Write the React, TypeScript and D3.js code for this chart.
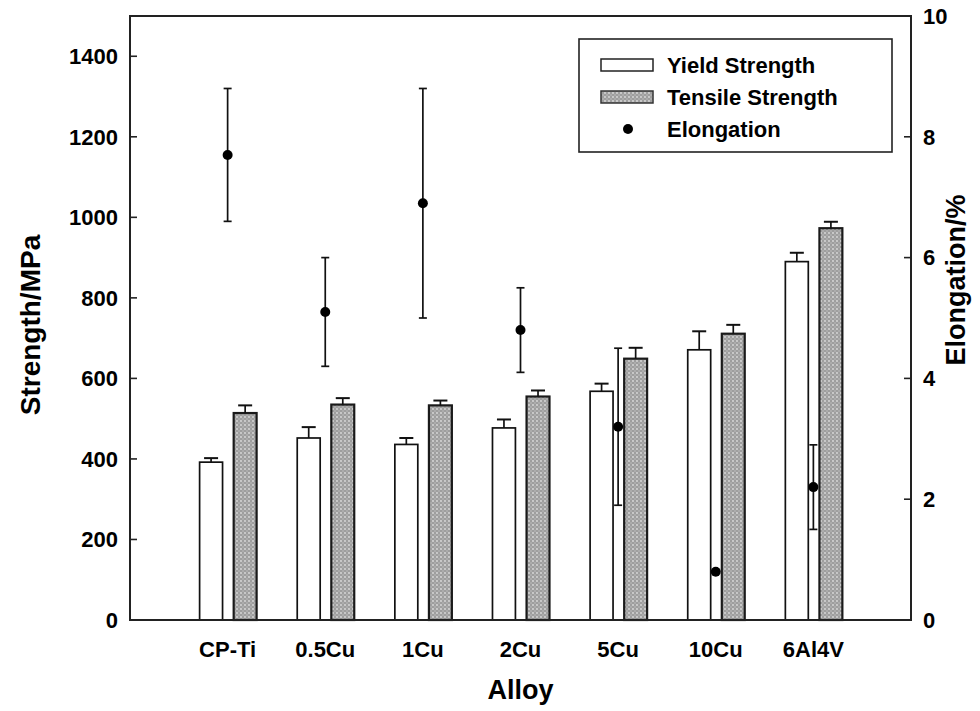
import React from 'react';
import * as d3 from 'd3';

// Values.
const categories = ['CP-Ti', '0.5Cu', '1Cu', '2Cu', '5Cu', '10Cu', '6Al4V'];
const yieldStrength = [392, 452, 436, 477, 568, 671, 890];
const yieldErr = [10, 27, 16, 21, 19, 46, 22];
const tensileStrength = [514, 535, 533, 555, 649, 711, 973];
const tensileErr = [19, 16, 12, 15, 27, 22, 16];
const elongation = [7.7, 5.1, 6.9, 4.8, 3.2, 0.8, 2.2];
const elongationErr = [1.1, 0.9, 1.9, 0.7, 1.3, 0, 0.7];
const strengthTicks = [0, 200, 400, 600, 800, 1000, 1200, 1400];
const elongTicks = [0, 2, 4, 6, 8, 10];

const W = 980;
const H = 711;
const margin = { top: 16, right: 69, bottom: 91, left: 130 };
const font = '"Liberation Sans", Arial, Helvetica, sans-serif';

const App = () => {
  const left = margin.left;
  const right = W - margin.right;
  const top = margin.top;
  const bottom = H - margin.bottom;

  const x = d3.scalePoint<string>().domain(categories).range([left, right]).padding(1);
  const y = d3.scaleLinear().domain([0, 1500]).range([bottom, top]);
  const y2 = d3.scaleLinear().domain([0, 10]).range([bottom, top]);

  const step = x.step();
  const barW = step * 0.235;
  const yieldOff = -step * 0.287; // left edge of yield bar from center
  const tensOff = step * 0.062;

  const rows = categories.map((c, i) => ({
    c,
    cx: x(c) as number,
    ys: yieldStrength[i],
    ye: yieldErr[i],
    ts: tensileStrength[i],
    te: tensileErr[i],
    el: elongation[i],
    ee: elongationErr[i],
  }));

  const capBar = 7;
  const capEl = 4;

  return (
    <svg width={W} height={H} style={{ position: 'absolute', left: 0, top: 0, background: '#fff' }}>
      <defs>
        <pattern id="stipple" width="4" height="4" patternUnits="userSpaceOnUse">
          <rect width="4" height="4" fill="#9e9e9e" />
          <circle cx="1" cy="1" r="0.9" fill="#dcdcdc" />
          <circle cx="3" cy="3" r="0.7" fill="#c6c6c6" />
        </pattern>
      </defs>

      {/* bars */}
      {rows.map((d) => (
        <g key={d.c}>
          <rect x={d.cx + yieldOff} y={y(d.ys)} width={barW} height={bottom - y(d.ys)}
            fill="#fff" stroke="#111" strokeWidth={1.7} />
          <rect x={d.cx + tensOff} y={y(d.ts)} width={barW} height={bottom - y(d.ts)}
            fill="url(#stipple)" stroke="#1a1a1a" strokeWidth={2.2} />
          {/* upward error bars */}
          <line x1={d.cx + yieldOff + barW / 2} x2={d.cx + yieldOff + barW / 2} y1={y(d.ys)} y2={y(d.ys + d.ye)} stroke="#111" strokeWidth={1.7} />
          <line x1={d.cx + yieldOff + barW / 2 - capBar} x2={d.cx + yieldOff + barW / 2 + capBar} y1={y(d.ys + d.ye)} y2={y(d.ys + d.ye)} stroke="#111" strokeWidth={2} />
          <line x1={d.cx + tensOff + barW / 2} x2={d.cx + tensOff + barW / 2} y1={y(d.ts)} y2={y(d.ts + d.te)} stroke="#111" strokeWidth={1.7} />
          <line x1={d.cx + tensOff + barW / 2 - capBar} x2={d.cx + tensOff + barW / 2 + capBar} y1={y(d.ts + d.te)} y2={y(d.ts + d.te)} stroke="#111" strokeWidth={2} />
        </g>
      ))}

      {/* elongation points with error bars */}
      {rows.map((d) => (
        <g key={'e' + d.c}>
          {d.ee > 0 && (
            <>
              <line x1={d.cx} x2={d.cx} y1={y2(d.el + d.ee)} y2={y2(d.el - d.ee)} stroke="#111" strokeWidth={1.7} />
              <line x1={d.cx - capEl} x2={d.cx + capEl} y1={y2(d.el + d.ee)} y2={y2(d.el + d.ee)} stroke="#111" strokeWidth={1.7} />
              <line x1={d.cx - capEl} x2={d.cx + capEl} y1={y2(d.el - d.ee)} y2={y2(d.el - d.ee)} stroke="#111" strokeWidth={1.7} />
            </>
          )}
          <circle cx={d.cx} cy={y2(d.el)} r={5} fill="#000" />
        </g>
      ))}

      {/* frame */}
      <rect x={left} y={top} width={right - left} height={bottom - top} fill="none" stroke="#222" strokeWidth={2} />

      {/* left axis */}
      {strengthTicks.map((t) => (
        <g key={'l' + t}>
          <line x1={left} x2={left + 7} y1={y(t)} y2={y(t)} stroke="#222" strokeWidth={1.6} />
          <text x={left - 12} y={y(t)} dy="0.35em" textAnchor="end" fontFamily={font} fontWeight="bold" fontSize={22} fill="#000">{t}</text>
        </g>
      ))}

      {/* right axis */}
      {elongTicks.map((t) => (
        <g key={'r' + t}>
          <line x1={right - 7} x2={right} y1={y2(t)} y2={y2(t)} stroke="#222" strokeWidth={1.6} />
          <text x={right + 12} y={y2(t)} dy="0.35em" textAnchor="start" fontFamily={font} fontWeight="bold" fontSize={22} fill="#000">{t}</text>
        </g>
      ))}

      {/* category labels */}
      {rows.map((d) => (
        <text key={'c' + d.c} x={d.cx} y={bottom + 29} dy="0.35em" textAnchor="middle" fontFamily={font} fontWeight="bold" fontSize={22} fill="#000">{d.c}</text>
      ))}

      {/* axis titles */}
      <text x={(left + right) / 2} y={690} dy="0.35em" textAnchor="middle" fontFamily={font} fontWeight="bold" fontSize={27} fill="#000">Alloy</text>
      <text transform={`translate(30, 325) rotate(-90)`} dy="0.35em" textAnchor="middle" fontFamily={font} fontWeight="bold" fontSize={28} fill="#000">Strength/MPa</text>
      <text transform={`translate(956, 280) rotate(-90)`} dy="0.35em" textAnchor="middle" fontFamily={font} fontWeight="bold" fontSize={27} fill="#000">Elongation/%</text>

      {/* legend */}
      <g>
        <rect x={579} y={39} width={313} height={113} fill="#fff" stroke="#222" strokeWidth={1.6} />
        <rect x={601} y={59} width={52} height={12} fill="#fff" stroke="#222" strokeWidth={1.5} />
        <text x={667} y={65} dy="0.35em" fontFamily={font} fontWeight="bold" fontSize={22} fill="#000">Yield Strength</text>
        <rect x={601} y={91} width={52} height={12} fill="url(#stipple)" stroke="#333" strokeWidth={1.5} />
        <text x={667} y={97} dy="0.35em" fontFamily={font} fontWeight="bold" fontSize={22} fill="#000">Tensile Strength</text>
        <circle cx={628} cy={129} r={5} fill="#000" />
        <text x={667} y={129} dy="0.35em" fontFamily={font} fontWeight="bold" fontSize={22} fill="#000">Elongation</text>
      </g>
    </svg>
  );
};

export default App;
